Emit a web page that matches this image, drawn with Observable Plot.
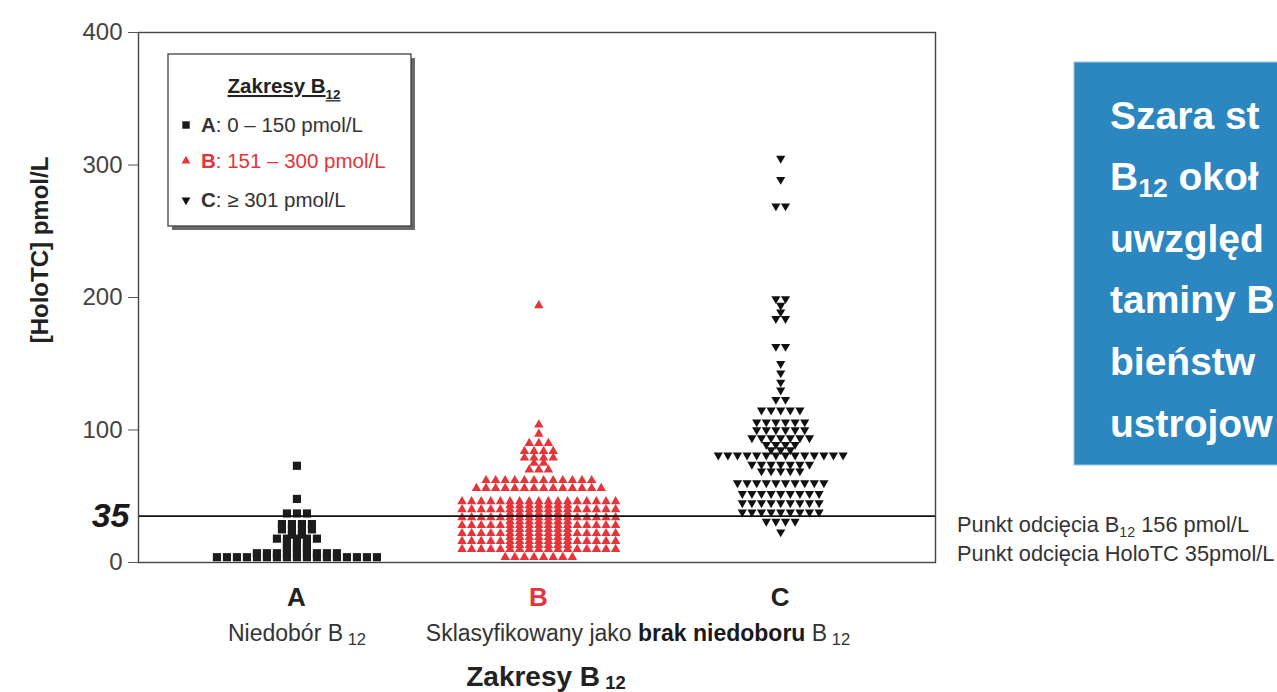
<!DOCTYPE html>
<html><head><meta charset="utf-8">
<script src="https://cdn.jsdelivr.net/npm/d3@7"></script>
<script src="https://cdn.jsdelivr.net/npm/@observablehq/plot@0.6"></script>
<style>html,body{margin:0;padding:0;background:#fff;overflow:hidden;} svg{display:block;}</style>
</head><body><div id="chart"></div>
<script>
// ---- data (value levels of each row of markers and the number of markers in that row)
const groups = ["A", "B", "C"];
const groupColors = ["#1c1c1c", "#e5343a", "#111111"];
const aLevels = [73, 48, 37, 29, 25, 21, 18, 14, 11, 7, 4];
const aCounts = [1, 1, 3, 4, 4, 2, 5, 3, 3, 9, 17];
const bLevels = [194, 104, 97, 90, 84, 79, 75, 70, 62, 56, 46, 43, 40, 37, 34, 31, 28, 25, 22, 19, 16, 13, 10, 4];
const bCounts = [1, 1, 1, 3, 4, 4, 2, 3, 12, 14, 17, 7, 17, 7, 17, 7, 17, 7, 17, 7, 17, 7, 17, 8];
const cLevels = [305, 289, 269, 199, 194, 189, 184, 163, 150, 143, 136, 130, 123, 115, 106, 100, 94, 89, 85, 81, 74, 69, 60, 52, 45, 38, 31, 23];
const cCounts = [1, 1, 2, 2, 1, 1, 2, 2, 1, 1, 1, 1, 2, 5, 6, 6, 7, 4, 3, 14, 7, 5, 10, 9, 9, 9, 4, 1];
const yTicks = [0, 100, 200, 300, 400];
const cutoff = 35;
const categoryTitles = ["A", "B", "C"];

// ---- layout constants
const W = 1277, H = 692;
const mL = 138, mR = 342, mT = 32, mB = 130;
const xDomain = [-0.655, 2.64];
const innerW = W - mL - mR;
const unitPx = innerW / (xDomain[1] - xDomain[0]);
const slotPx = [10, 9.6, 9.6];
const font = "'Liberation Sans', Arial, Helvetica, sans-serif";

// dot-histogram layout: markers of one row spread symmetrically around the category
function layout(levels, counts, gi) {
  const out = [];
  levels.forEach((v, j) => {
    const n = counts[j];
    for (let i = 0; i < n; i++) out.push({g: groups[gi], v, x: gi + (i - (n - 1) / 2) * slotPx[gi] / unitPx});
  });
  return out;
}
const dataA = layout(aLevels, aCounts, 0);
const dataB = layout(bLevels, bCounts, 1);
const dataC = layout(cLevels, cCounts, 2);

const triDown = {
  draw(ctx, size) {
    const y = Math.sqrt(size / (Math.sqrt(3) * 3)), s3 = Math.sqrt(3);
    ctx.moveTo(0, 2 * y); ctx.lineTo(-s3 * y, -y); ctx.lineTo(s3 * y, -y); ctx.closePath();
  }
};

const plot = Plot.plot({
  width: W, height: H,
  marginLeft: mL, marginRight: mR, marginTop: mT, marginBottom: mB,
  style: {fontFamily: font, color: "#333", background: "#fff", overflow: "hidden"},
  x: {domain: xDomain, axis: null},
  y: {domain: [0, 400], label: null},
  marks: [
    Plot.dot(dataA, {x: "x", y: "v", symbol: "square", r: 4.6, fill: groupColors[0]}),
    Plot.dot(dataB, {x: "x", y: "v", symbol: "triangle", r: 3.5, fill: groupColors[1]}),
    Plot.dot(dataC, {x: "x", y: "v", symbol: triDown, r: 3.4, fill: groupColors[2]}),
    Plot.ruleY([cutoff], {stroke: "#111", strokeWidth: 1.8}),
    Plot.frame({stroke: "#444", strokeWidth: 1.4}),
    Plot.axisY(yTicks, {tickSize: 10, tickPadding: 6, fontSize: 24, fill: "#444", stroke: "#555", label: null}),
    Plot.axisY([cutoff], {tickSize: 0, tickPadding: 9, fontSize: 34, fontWeight: "bold", fontStyle: "italic", fill: "#1a1a1a", label: null})
  ]
});
plot.style.overflow = "hidden";
document.getElementById("chart").appendChild(plot);

const svg = d3.select(plot);
const xs = plot.scale("x");
const g = svg.append("g").attr("font-family", font);

function rich(parent, x, y, parts, o) {
  const t = parent.append("text").attr("x", x).attr("y", y)
    .attr("font-size", o.size).attr("fill", o.fill || "#333")
    .attr("text-anchor", o.anchor || "start").attr("font-weight", o.weight || "normal");
  if (o.transform) t.attr("transform", o.transform);
  if (o.deco) t.attr("text-decoration", o.deco);
  let shift = 0;
  parts.forEach(p => {
    const s = t.append("tspan").text(p.t);
    const target = p.sub ? o.size * (p.subDy ?? 0.3) : 0;
    if (target !== shift) { s.attr("dy", target - shift); shift = target; }
    if (p.sub) s.attr("font-size", o.size * (p.subSize ?? 0.62));
    if (p.bold) s.attr("font-weight", "bold");
    if (p.fill) s.attr("fill", p.fill);
  });
  return t;
}

// y axis title
rich(g, 0, 0, [{t: "[HoloTC] pmol/L"}], {size: 24, weight: "bold", fill: "#222", anchor: "middle", transform: "translate(48,250) rotate(-90)"});

// category labels
categoryTitles.forEach((c, i) => {
  rich(g, xs.apply(i), 606, [{t: c}], {size: 26, weight: "bold", fill: i === 1 ? groupColors[1] : "#222", anchor: "middle"});
});
rich(g, 297, 641, [{t: "Niedobór B"}, {t: " 12", sub: true, subDy: 0.18, subSize: 0.72}], {size: 23, fill: "#333", anchor: "middle"});
rich(g, 638, 641, [{t: "Sklasyfikowany jako "}, {t: "brak niedoboru", bold: true, fill: "#1a1a1a"}, {t: " B"}, {t: " 12", sub: true, subDy: 0.18, subSize: 0.72}], {size: 23, fill: "#333", anchor: "middle"});
rich(g, 546, 686, [{t: "Zakresy B"}, {t: " 12", sub: true, subDy: 0.1, subSize: 0.66}], {size: 28, weight: "bold", fill: "#222", anchor: "middle"});

// cut-off notes
rich(g, 957, 532, [{t: "Punkt odcięcia B"}, {t: "12", sub: true, subDy: 0.25, subSize: 0.65}, {t: " 156 pmol/L"}], {size: 21.8, fill: "#333"});
rich(g, 957, 561, [{t: "Punkt odcięcia HoloTC 35pmol/L"}], {size: 21.8, fill: "#333"});

// legend box
const lg = g.append("g");
lg.append("rect").attr("x", 172).attr("y", 58).attr("width", 243).attr("height", 172).attr("fill", "#6b6b6b");
lg.append("rect").attr("x", 168).attr("y", 54).attr("width", 243).attr("height", 172).attr("fill", "#fff").attr("stroke", "#333").attr("stroke-width", 1.2);
rich(lg, 284, 93, [{t: "Zakresy B"}, {t: "12", sub: true, subDy: 0.3, subSize: 0.65}], {size: 20.5, weight: "bold", fill: "#222", anchor: "middle", deco: "underline"});
const legendSymbols = [d3.symbolSquare, d3.symbolTriangle, triDown];
const legendSizes = [Math.PI * 4.2 * 4.2, Math.PI * 3.3 * 3.3, Math.PI * 3.3 * 3.3];
const legendRows = [
  [{t: "A", bold: true}, {t: ": 0 – 150 pmol/L"}],
  [{t: "B", bold: true}, {t: ": 151 – 300 pmol/L"}],
  [{t: "C", bold: true}, {t: ": ≥ 301 pmol/L"}]
];
const legendY = [132, 168, 207];
legendRows.forEach((parts, i) => {
  lg.append("path").attr("d", d3.symbol(legendSymbols[i], legendSizes[i])())
    .attr("transform", `translate(186,${legendY[i] - 7})`).attr("fill", groupColors[i]);
  rich(lg, 201, legendY[i], parts, {size: 20.5, fill: i === 1 ? groupColors[1] : "#333"});
});

// blue call-out box (only the part visible at the page edge)
const bg = g.append("g");
bg.append("rect").attr("x", 1074).attr("y", 62).attr("width", 260).attr("height", 403).attr("fill", "#2c86c0").attr("stroke", "#9cc6e4").attr("stroke-width", 1);
const boxLines = [
  [{t: "Szara st"}],
  [{t: "B"}, {t: "12", sub: true, subDy: 0.18, subSize: 0.68}, {t: " okoł"}],
  [{t: "uwzględ"}],
  [{t: "taminy B"}],
  [{t: "bieństw"}],
  [{t: "ustrojow"}]
];
const boxY = [129, 190, 252, 313, 375, 437];
boxLines.forEach((parts, i) => rich(bg, 1110, boxY[i], parts, {size: 39, weight: "bold", fill: "#fff"}));
</script>
</body></html>
